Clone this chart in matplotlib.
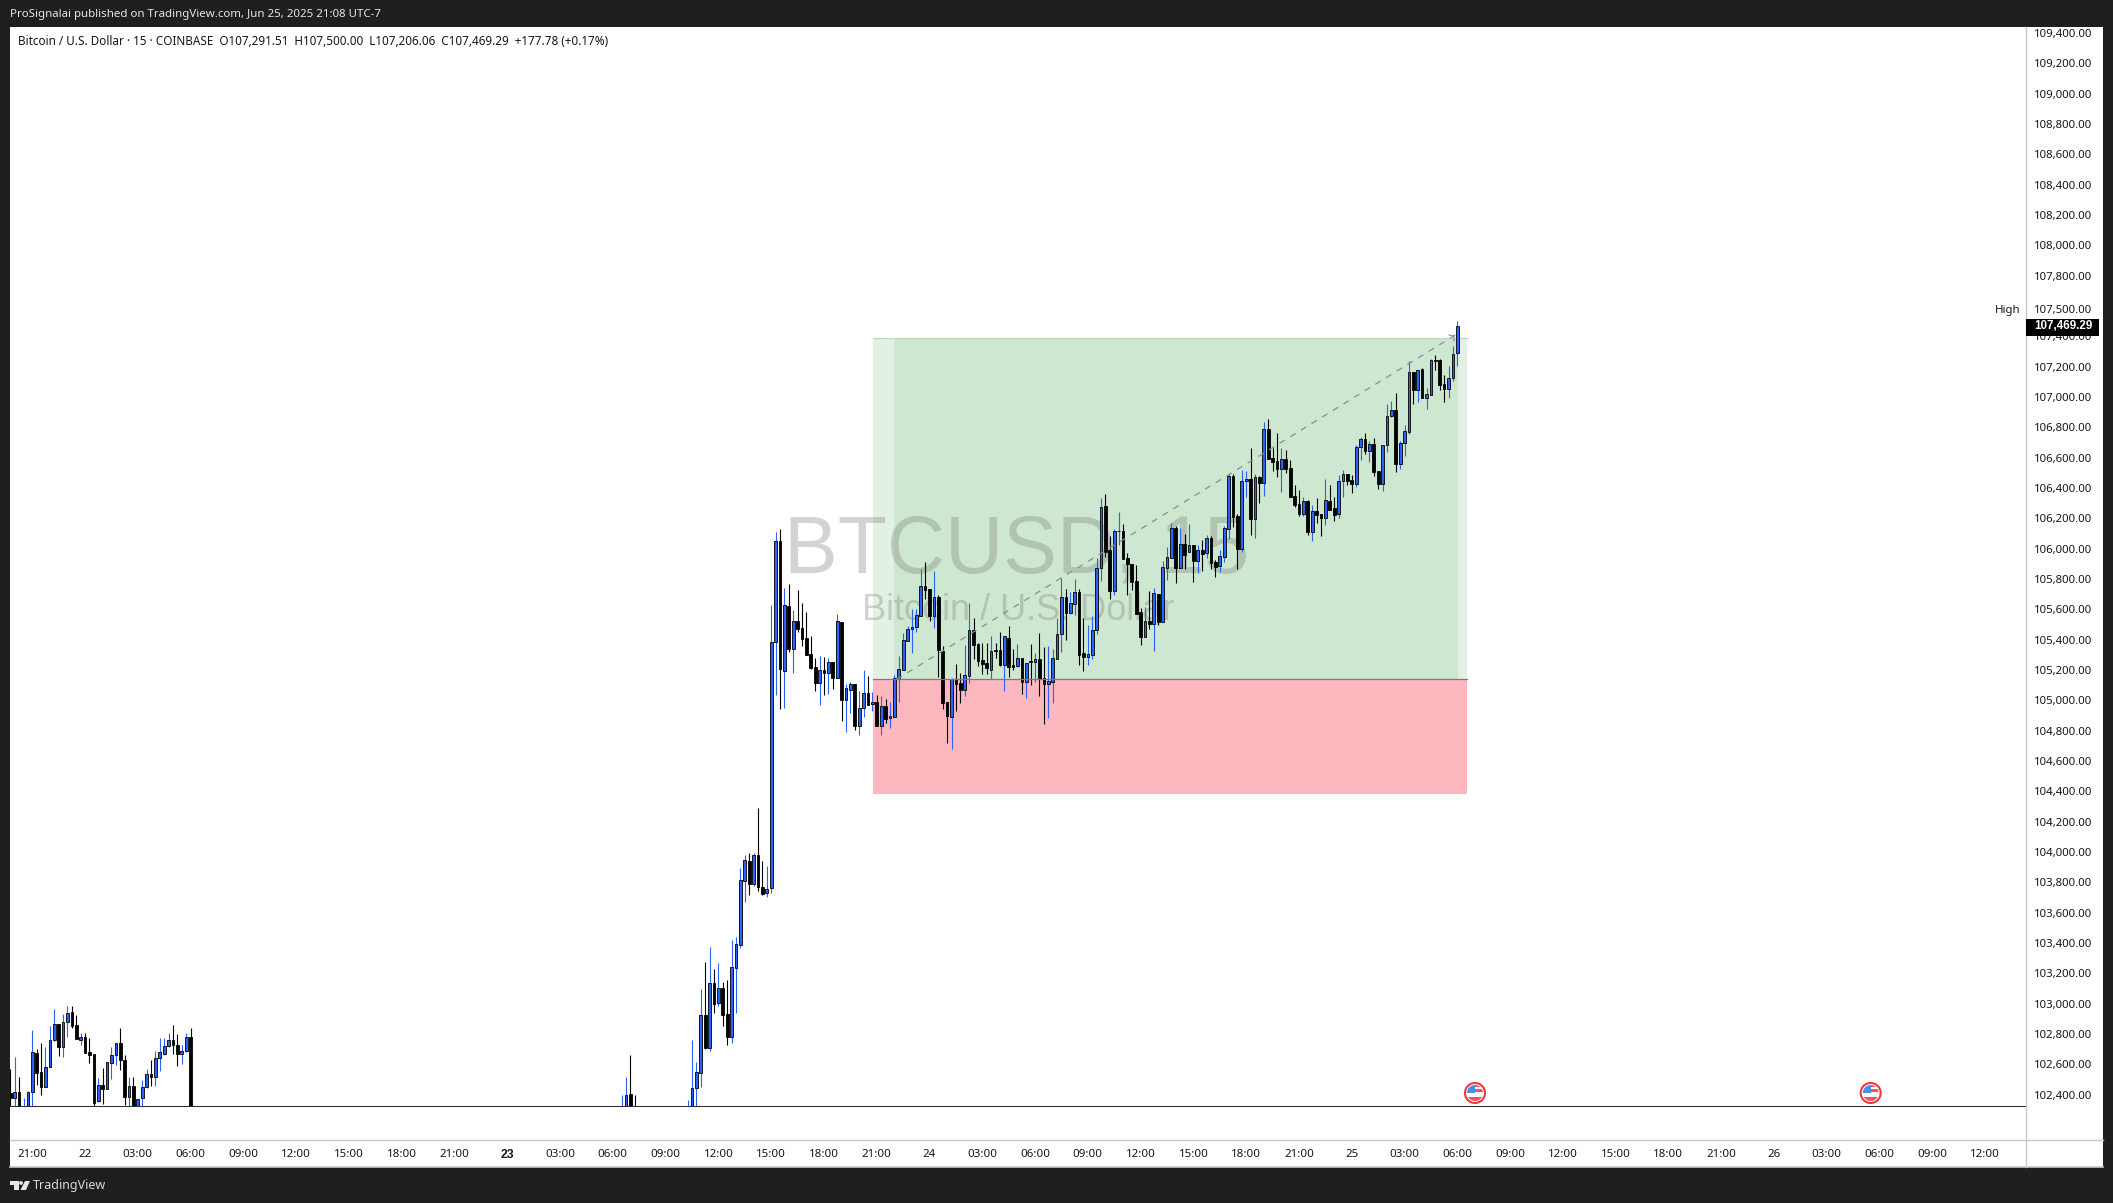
import numpy as np
import matplotlib
matplotlib.use("Agg")
import matplotlib.pyplot as plt
from matplotlib.patches import Rectangle, Circle, Polygon

plt.rcParams['font.family'] = ['Noto Sans', 'DejaVu Sans']

# bar numbers, 0 = Jun 21 21:00, 15 minute bars. Gaps are bars under the bottom line
bars = list(range(-5, 37)) + list(range(134, 138)) + list(range(149, 325))

opens = [
    102411,102376,102415,102230,102250,102415,102672,102547,102453,102580,
    102758,102864,102716,102881,102943,102857,102762,102778,102681,102666,
    102356,102461,102439,102611,102659,102738,102628,102387,102455,102250,
    102380,102448,102534,102518,102639,102670,102719,102758,102725,102670,
    102688,102778,
    102200,102250,102404,102280,
    102200,102250,102446,102545,102923,102710,103134,103007,103101,102930,
    102783,103237,103389,103811,103939,103791,103978,103767,103728,103761,
    105387,106048,105196,105620,105341,105521,105475,105409,105303,105218,
    105117,105198,105182,105251,105149,105514,105004,105070,105106,104833,
    104947,105046,104974,104987,104833,104960,104881,104892,105143,105200,
    105394,105468,105481,105558,105752,105732,105558,105679,105323,104989,
    104892,105134,105114,105070,105163,105462,105371,105264,105244,105202,
    105330,105330,105235,105409,105233,105229,105277,105123,105259,105255,
    105270,105145,105110,105123,105275,105440,105679,105578,105638,105712,
    105310,105288,105301,105461,105870,106279,105991,105723,106114,106116,
    105936,105899,105784,105580,105419,105521,105505,105699,105518,105870,
    105940,106134,105874,106028,105976,106022,105921,105991,105969,106068,
    105910,105883,105947,106132,106477,106213,105999,106444,106457,106198,
    106470,106435,106787,106595,106576,106528,106589,106530,106345,106293,
    106231,106312,106112,106249,106227,106205,106312,106266,106227,106444,
    106490,106451,106429,106668,106721,106646,106688,106510,106429,106686,
    106877,106912,106561,106695,106772,107163,107049,107183,106996,107016,
    107242,107242,107084,107055,107123,107291.51,
]
highs = [
    102569,102648,102516,102378,102424,102826,102701,102740,102714,102850,
    102965,102864,102934,102984,102984,102925,102804,102804,102771,102666,
    102507,102576,102613,102716,102740,102839,102661,102514,102514,102369,
    102494,102569,102628,102688,102771,102771,102804,102859,102798,102727,
    102804,102837,
    102397,102516,102661,102397,
    102365,102761,102615,103097,103275,103374,103229,103268,103143,103156,
    103420,103438,103895,103980,103991,103991,104288,103941,103908,105629,
    106108,106130,105739,105767,105596,105728,105642,105582,105424,105281,
    105292,105284,105277,105251,105569,105514,105106,105123,105106,105062,
    105200,105158,105055,105033,105029,105009,104989,105167,105292,105442,
    105490,105602,105602,105864,105910,105732,105853,105692,105358,104989,
    105147,105240,105180,105365,105642,105543,105376,105376,105376,105424,
    105376,105448,105422,105490,105339,105371,105277,105248,105371,105310,
    105442,105349,105358,105339,105541,105807,105734,105712,105802,105734,
    105540,105496,105556,105936,106334,106360,106083,106129,106241,106162,
    105969,105899,105892,105606,105615,105721,105740,105699,105916,106011,
    106167,106149,106136,106096,106162,106022,106024,106055,106090,106083,
    105925,105991,106147,106492,106492,106226,106518,106512,106661,106492,
    106479,106833,106855,106661,106760,106664,106651,106585,106418,106385,
    106341,106319,106288,106332,106227,106460,106420,106341,106486,106519,
    106490,106486,106686,106739,106761,106712,106728,106510,106682,106954,
    106974,107025,106710,106816,107236,107163,107181,107189,107060,107249,
    107275,107249,107145,107205,107337,107500,
]
lows = [
    102250,102250,102200,102200,102200,102250,102464,102398,102453,102580,
    102756,102655,102648,102780,102837,102767,102727,102672,102609,102250,
    102354,102340,102439,102503,102595,102562,102332,102250,102200,102200,
    102250,102442,102459,102459,102556,102661,102717,102666,102591,102602,
    102679,102200,
    102200,102200,102200,102200,
    102200,102200,102250,102453,102703,102690,102941,102987,102855,102730,
    102743,102941,103369,103673,103719,103776,103745,103717,103706,103730,
    105035,104943,104949,105319,105180,105453,105360,105301,105204,105064,
    104971,105035,105042,105077,105149,104866,104793,104916,104807,104774,
    104892,104971,104932,104833,104774,104853,104820,104892,104989,105200,
    105394,105310,105451,105558,105670,105525,105477,105156,104941,104719,
    104679,104930,104985,105029,105114,105273,105226,105174,105174,105138,
    105279,105226,105064,105156,105200,105222,105042,105018,105101,105121,
    105031,104844,104883,104985,105275,105321,105396,105569,105565,105233,
    105195,105233,105272,105439,105786,105947,105670,105696,106024,105934,
    105694,105727,105571,105364,105419,105470,105325,105496,105518,105793,
    105940,105775,105874,105866,105976,105782,105841,105852,105938,105868,
    105815,105846,105912,106063,106143,105866,105978,106340,106090,106070,
    106301,106347,106591,106512,106472,106374,106499,106343,106275,106216,
    106216,106090,106053,106172,106086,106159,106257,106185,106203,106343,
    106420,106367,106407,106585,106625,106574,106482,106394,106383,106640,
    106871,106506,106528,106611,106756,106954,106967,106996,106921,107016,
    107181,107049,106970,106996,107108,107206.06,
]
closes = [
    102376,102415,102250,102280,102415,102679,102545,102453,102580,102758,
    102864,102716,102881,102936,102853,102767,102778,102677,102664,102347,
    102461,102439,102613,102659,102738,102631,102387,102455,102250,102369,
    102448,102534,102518,102639,102679,102719,102758,102725,102670,102688,
    102778,102250,
    102280,102395,102250,102200,
    102280,102442,102547,102923,102708,103134,103000,103101,102928,102783,
    103240,103391,103813,103945,103791,103978,103772,103723,103758,105382,
    106048,105204,105626,105341,105521,105470,105407,105301,105213,105117,
    105198,105182,105251,105149,105521,105004,105079,105106,104833,104947,
    105046,104971,104987,104833,104960,104879,104894,105145,105204,105396,
    105468,105481,105560,105752,105730,105558,105679,105334,104985,104899,
    105138,105110,105070,105165,105462,105367,105262,105242,105213,105323,
    105325,105235,105422,105222,105222,105277,105123,105248,105255,105270,
    105141,105110,105125,105277,105440,105679,105578,105640,105712,105301,
    105288,105303,105461,105870,106272,105980,105723,106114,106118,105934,
    105896,105782,105571,105419,105521,105503,105705,105518,105877,105943,
    106134,105874,106028,105960,106022,105921,105989,105967,106068,105907,
    105881,105949,106134,106477,106211,105999,106444,106459,106198,106470,
    106433,106787,106591,106571,106525,106589,106528,106343,106290,106231,
    106312,106112,106246,106224,106203,106319,106257,106224,106444,106490,
    106446,106429,106668,106721,106646,106688,106508,106429,106682,106873,
    106912,106561,106695,106774,107163,107049,107181,106996,107018,107242,
    107238,107082,107055,107123,107282,107469.29,
]

time_labels = ['21:00', '22', '03:00', '06:00', '09:00', '12:00', '15:00', '18:00', '21:00',
               '23', '03:00', '06:00', '09:00', '12:00', '15:00', '18:00', '21:00',
               '24', '03:00', '06:00', '09:00', '12:00', '15:00', '18:00', '21:00',
               '25', '03:00', '06:00', '09:00', '12:00', '15:00', '18:00', '21:00',
               '26', '03:00', '06:00', '09:00', '12:00']
price_ticks = [109400, 109200, 109000, 108800, 108600, 108400, 108200, 108000, 107800,
               107400, 107200, 107000, 106800, 106600, 106400, 106200, 106000, 105800,
               105600, 105400, 105200, 105000, 104800, 104600, 104400, 104200, 104000,
               103800, 103600, 103400, 103200, 103000, 102800, 102600, 102400]

last_price = 107469.29
high_price = 107500.00
high_label_pos = 107575   # label is pushed up above the last price tag
base_price = 102325       # the horizontal line at the bottom

target_price = 107389
entry_price = 105138
stop_price = 104384
pos_start, pos_inner, pos_inner_end, pos_end = 191.2, 195.9, 324.2, 326.1
trend_x = [196.5, 323.6]
trend_y = [entry_price, 107410]

title = ('Bitcoin / U.S. Dollar \u00b7 15 \u00b7 COINBASE  O107,291.51  H107,500.00  '
         'L107,206.06  C107,469.29  +177.78 (+0.17%)')
header = 'ProSignalai published on TradingView.com, Jun 25, 2025 21:08 UTC-7'

W, H = 2113, 1203
UP = '#2962ff'
DARK = '#1f1f1f'
TEXT = '#131722'
LINE = '#c8c8c8'

fig = plt.figure(figsize=(W / 100, H / 100), dpi=100, facecolor=DARK)

# white frame behind the chart and the two scales
fig.add_artist(Rectangle((10 / W, 1 - 1167 / H), 2093 / W, 1140 / H, transform=fig.transFigure,
                         facecolor='white', edgecolor='none', zorder=-5))

ax = fig.add_axes([10 / W, 1 - 1140 / H, 2016 / W, 1113 / H], facecolor='white')
ax.set_xlim(-5.07, 453.3)
ax.set_ylim(102101, 109440)
for s in ax.spines.values():
    s.set_visible(False)

# position tool
ax.add_patch(Rectangle((pos_start, entry_price), pos_end - pos_start, target_price - entry_price,
                       facecolor='#e3f0e4', edgecolor='none', zorder=1))
ax.add_patch(Rectangle((pos_inner, entry_price), pos_inner_end - pos_inner, target_price - entry_price,
                       facecolor='#cde7d0', edgecolor='none', zorder=1))
ax.add_patch(Rectangle((pos_start, stop_price), pos_end - pos_start, entry_price - stop_price,
                       facecolor='#fdb8bf', edgecolor='none', zorder=1))
ax.plot([pos_start, pos_end], [target_price, target_price], color='#b9dcbd', lw=0.8, zorder=1.5)
ax.plot([pos_start, pos_end], [entry_price, entry_price], color='#787b7f', lw=0.9, zorder=5)

# watermark
ax.text(223.7, 105840, 'BTCUSD, 15', ha='center', va='baseline', fontsize=58,
        family='Liberation Sans', color='#787878', alpha=0.32, zorder=2)
ax.text(224.1, 105530, 'Bitcoin / U.S. Dollar', ha='center', va='baseline', fontsize=26,
        family='Liberation Sans', color='#787878', alpha=0.32, zorder=2)

# candles
bars_a = np.array(bars)
o, h, l, c = np.array(opens), np.array(highs), np.array(lows), np.array(closes)
rising = c >= o
candle_colors = [UP if r else 'black' for r in rising]
ax.vlines(bars_a, l, h, colors=candle_colors, lw=0.8, zorder=3)
ax.bar(bars_a, np.abs(c - o), bottom=np.minimum(o, c), width=0.62, color=candle_colors,
       edgecolor='black', linewidth=0.6, zorder=4)

# everything under the bottom line is cut off
ax.axhspan(102101, base_price, facecolor='white', edgecolor='none', zorder=6)
ax.axhline(base_price, color='#2a2e39', lw=0.75, zorder=7)

# trend line
ax.plot(trend_x, trend_y, color='#8a8d93', lw=0.9, ls=(0, (5, 5)), zorder=5)

# scales
ax.set_xticks(np.arange(len(time_labels)) * 12)
ax.set_xticklabels(time_labels, fontsize=8.3, color=TEXT)
ax.tick_params(axis='x', length=0, pad=6.7)
bold_day = ax.get_xticklabels()[9]
bold_day.set_family('Liberation Sans')
bold_day.set_fontweight('bold')
bold_day.set_fontsize(8.8)
ax.yaxis.tick_right()
ax.set_yticks(price_ticks)
ax.set_yticklabels([f'{p:,.2f}' for p in price_ticks], fontsize=8.2, color=TEXT)
ax.tick_params(axis='y', length=0, pad=5.8)

# overlay in pixels for the chrome around the chart
ov = fig.add_axes([0, 0, 1, 1], facecolor='none')
ov.set_xlim(0, W)
ov.set_ylim(H, 0)
ov.axis('off')

ov.plot([2026, 2026], [27, 1167], color=LINE, lw=1)
ov.plot([10, 2103], [1140, 1140], color=LINE, lw=1)
ov.plot([10, 2103], [1167, 1167], color=LINE, lw=1.2)

ov.text(10, 14, header, fontsize=8.27, color='#e6e6e6', va='center', ha='left')
ov.text(18, 41.5, title, fontsize=8.42, color=TEXT, va='center', ha='left')

# price tag and the High label
y_of = lambda p: 275.7 + (107800 - p) * 0.15165
ov.add_patch(Rectangle((2026, 319), 73, 17, facecolor='black', edgecolor='none', zorder=8))
ov.text(2034, y_of(last_price) + 0.5, f'{last_price:,.2f}', fontsize=8.4, fontweight='bold',
        family='Liberation Sans', color='white', va='center', ha='left', zorder=9)
ov.text(2034, y_of(high_label_pos) + 0.5, f'{high_price:,.2f}', fontsize=8.2, color=TEXT,
        va='center', ha='left')
ov.text(2021, y_of(high_label_pos) + 0.5, 'High', fontsize=8.2, color=TEXT, va='center', ha='right')

# arrow head of the trend line
ov.plot([1449, 1454, 1454], [335, 336, 341], color='#8a8d93', lw=0.8, zorder=6)


# event flags
def flag(x, y):
    ring = Circle((x, y), 10, facecolor='white', edgecolor='#f23645', lw=1.5, zorder=9)
    ov.add_patch(ring)
    clip = Circle((x, y), 8, transform=ov.transData)
    parts = [
        Rectangle((x - 8, y - 9), 8, 8.5, facecolor='#4a8fe7', edgecolor='none'),
        Rectangle((x, y - 9), 9, 3, facecolor='#f7525f', edgecolor='none'),
        Rectangle((x, y - 4), 9, 3, facecolor='#f7525f', edgecolor='none'),
        Rectangle((x - 9, y + 4), 18, 5, facecolor='#f7525f', edgecolor='none'),
    ]
    for part in parts:
        part.set_zorder(10)
        ov.add_patch(part)
        part.set_clip_path(clip)


flag(1475, 1093)
flag(1870.7, 1093)

# logo
ov.add_patch(Polygon([(10, 1181), (19, 1181), (19, 1190), (14, 1190), (14, 1185), (10, 1185)],
                     facecolor='#e8e8e8', edgecolor='none'))
ov.add_patch(Circle((21, 1183), 1.9, facecolor='#e8e8e8', edgecolor='none'))
ov.add_patch(Polygon([(25, 1181), (30, 1181), (26, 1190), (20.5, 1190)], facecolor='#e8e8e8', edgecolor='none'))
ov.text(33, 1185.5, 'TradingView', fontsize=9.0, color='#d8d8d8', va='center', ha='left')

fig.savefig('out.png', dpi=100, facecolor=DARK)
